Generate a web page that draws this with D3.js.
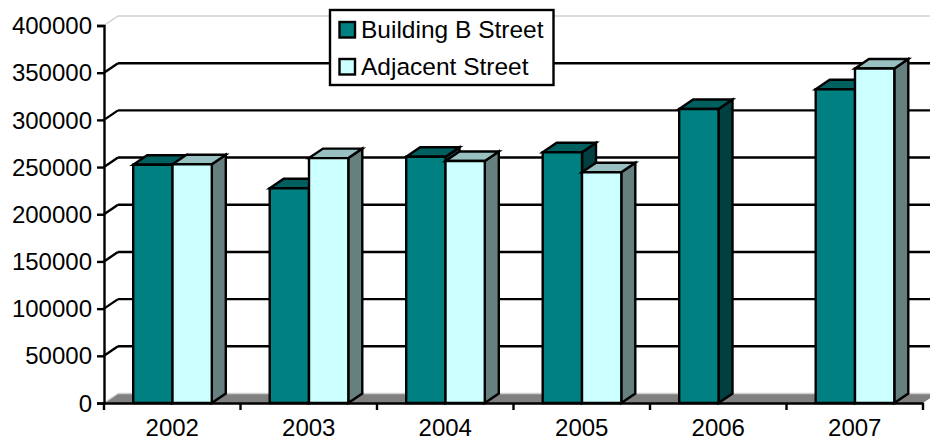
<!DOCTYPE html>
<html>
<head>
<meta charset="utf-8">
<script src="https://cdn.jsdelivr.net/npm/d3@7"></script>
<style>
  html, body { margin: 0; padding: 0; background: #fff; }
  svg { display: block; }
  text { font-family: "Liberation Sans", Arial, sans-serif; font-size: 24px; fill: #000; }
</style>
</head>
<body>
<div id="chart"></div>
<script>
const years = ["2002", "2003", "2004", "2005", "2006", "2007"];
const seriesNames = ["Building B Street", "Adjacent Street"];
const buildingB = [252500, 227500, 261000, 265700, 311600, 332500];
const adjacent = [253000, 259500, 256500, 244500, null, 354400];
const yTicks = [0, 50000, 100000, 150000, 200000, 250000, 300000, 350000, 400000];

const faceColors = [
  { front: "#008080", top: "#006060", side: "#004040" },
  { front: "#ccffff", top: "#99c0c0", side: "#668080" },
];

const WIDTH = 930;
const HEIGHT = 442;
const DX = 14;   // depth offset of the 3d box
const DY = -9.5;
const LINE = 2.4;

const svg = d3.select("#chart").append("svg")
  .attr("width", WIDTH)
  .attr("height", HEIGHT);

const x = d3.scaleBand().domain(years).range([104, 923]).paddingInner(0).paddingOuter(0);
const xInner = d3.scaleBand().domain([0, 1]).range([29.2, x.bandwidth() - 28.7]);
const y = d3.scaleLinear().domain([0, 400000]).range([403, 25.5]);

// floor
svg.append("path")
  .attr("d", `M104,${y(0)}L${104 + DX},${y(0) + DY}H${923 + DX}L923,${y(0)}Z`)
  .attr("fill", "#808080");

// back wall gridlines + the little diagonal on the side wall
const grid = svg.append("g");
yTicks.forEach(t => {
  const outer = t === 0 || t === 400000;
  const stroke = outer ? "#cfcfcf" : "#000";
  const sw = outer ? 1.5 : LINE;
  grid.append("line")
    .attr("x1", 104).attr("y1", y(t))
    .attr("x2", 104 + DX).attr("y2", y(t) + DY)
    .attr("stroke", stroke).attr("stroke-width", sw);
  grid.append("line")
    .attr("x1", 104 + DX).attr("y1", y(t) + DY)
    .attr("x2", WIDTH).attr("y2", y(t) + DY)
    .attr("stroke", stroke).attr("stroke-width", sw);
});

// bars, one series after the other so the second overlaps the first's side
[buildingB, adjacent].forEach((values, s) => {
  const c = faceColors[s];
  const g = svg.append("g");
  years.forEach((yr, i) => {
    if (values[i] == null) return;
    const x0 = x(yr) + xInner(s);
    const x1 = x0 + xInner.bandwidth();
    const top = y(values[i]);
    const base = y(0);
    const faces = [
      { d: `M${x1},${top}L${x1 + DX},${top + DY}V${base + DY}L${x1},${base}Z`, fill: c.side },
      { d: `M${x0},${top}L${x0 + DX},${top + DY}H${x1 + DX}L${x1},${top}Z`, fill: c.top },
      { d: `M${x0},${top}H${x1}V${base}H${x0}Z`, fill: c.front },
    ];
    g.selectAll(null).data(faces).enter().append("path")
      .attr("d", d => d.d)
      .attr("fill", d => d.fill)
      .attr("stroke", "#000")
      .attr("stroke-width", LINE)
      .attr("stroke-linejoin", "miter");
  });
});

// y axis
const yAxis = svg.append("g")
  .attr("transform", "translate(104,0)")
  .call(d3.axisLeft(y).tickValues(yTicks).tickSize(7).tickPadding(5).tickFormat(d3.format("d")));
yAxis.select(".domain").attr("stroke", "#000").attr("stroke-width", LINE);
yAxis.selectAll(".tick line").attr("stroke", "#000").attr("stroke-width", LINE);
yAxis.selectAll("text").style("font-family", '"Liberation Sans", Arial, sans-serif').style("font-size", "24px").attr("dy", "0.34em");

// x axis: labels sit in the band centre, ticks on the band edges
const xAxis = svg.append("g")
  .attr("transform", `translate(0,${y(0)})`)
  .call(d3.axisBottom(x).tickSize(0).tickPadding(16));
xAxis.select(".domain").attr("stroke", "#000").attr("stroke-width", LINE);
xAxis.selectAll("text").style("font-family", '"Liberation Sans", Arial, sans-serif').style("font-size", "24px");
xAxis.selectAll(null)
  .data(years.map(d => x(d)).concat(x.range()[1]))
  .enter().append("line")
  .attr("x1", d => d).attr("x2", d => d)
  .attr("y1", 0).attr("y2", 7)
  .attr("stroke", "#000").attr("stroke-width", LINE);

// legend
const legend = svg.append("g").attr("transform", "translate(330,10)");
legend.append("rect")
  .attr("width", 223.5).attr("height", 75)
  .attr("fill", "#fff").attr("stroke", "#000").attr("stroke-width", LINE);
seriesNames.forEach((name, i) => {
  const row = legend.append("g").attr("transform", `translate(0,${i * 37})`);
  row.append("rect")
    .attr("x", 9.5).attr("y", 12)
    .attr("width", 15.5).attr("height", 15.5)
    .attr("fill", faceColors[i].front)
    .attr("stroke", "#000").attr("stroke-width", LINE);
  row.append("text").attr("x", 31).attr("y", 28).style("font-size", "24.5px").text(name);
});
</script>
</body>
</html>
